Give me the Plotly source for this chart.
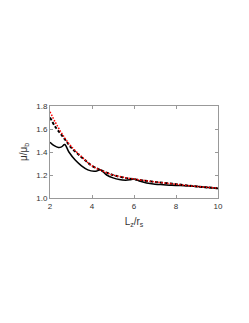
import plotly.graph_objects as go

red_x = [2, 2.25, 2.5, 2.75, 3, 3.5, 4, 4.5, 5, 5.5, 6, 7, 8, 9, 10]
red_y = [1.75, 1.66, 1.58, 1.51, 1.45, 1.36, 1.28, 1.235, 1.20, 1.18, 1.165, 1.14, 1.12, 1.10, 1.087]

dash_x = [2, 2.25, 2.5, 2.75, 3, 3.5, 4, 4.5, 5, 5.5, 6, 7, 8, 9, 10]
dash_y = [1.70, 1.62, 1.56, 1.50, 1.44, 1.355, 1.28, 1.235, 1.20, 1.178, 1.163, 1.14, 1.12, 1.10, 1.085]

solid_x = [2, 2.2, 2.4, 2.55, 2.7, 2.9, 3.2, 3.5, 3.8, 4.1, 4.25, 4.4, 4.7, 5.0, 5.3, 5.6, 5.8, 6.0,
           6.3, 6.6, 7.0, 7.4, 7.8, 8.2, 9, 10]
solid_y = [1.485, 1.455, 1.44, 1.445, 1.465, 1.40, 1.33, 1.28, 1.245, 1.232, 1.236, 1.245, 1.20, 1.175,
           1.16, 1.155, 1.158, 1.165, 1.145, 1.13, 1.12, 1.115, 1.11, 1.108, 1.10, 1.082]

x_ticks = [2, 4, 6, 8, 10]
y_ticks = [1.0, 1.2, 1.4, 1.6, 1.8]

FONT = "Liberation Sans, Arial"

fig = go.Figure()
fig.add_trace(go.Scatter(x=solid_x, y=solid_y, mode="lines",
                         line=dict(color="black", width=1.5, shape="spline"), showlegend=False))
fig.add_trace(go.Scatter(x=dash_x, y=dash_y, mode="lines",
                         line=dict(color="black", width=2, dash="3px,2px", shape="spline"), showlegend=False))
fig.add_trace(go.Scatter(x=red_x, y=red_y, mode="lines",
                         line=dict(color="red", width=1.5, dash="1.5px,1.5px", shape="spline"), showlegend=False))

axis_common = dict(showgrid=False, zeroline=False, showline=True, linecolor="#999999", linewidth=1,
                   mirror="ticks", ticks="inside", ticklen=3, tickcolor="#999999", automargin=False,
                   tickfont=dict(family=FONT, size=8, color="#333333"))

fig.update_xaxes(range=[2, 10], tickvals=x_ticks, ticktext=[str(v) for v in x_ticks],
                 title=dict(text="L<sub>z</sub>/r<sub>s</sub>", standoff=8,
                            font=dict(family=FONT, size=10, color="#333333")),
                 **axis_common)
fig.update_yaxes(range=[1.0, 1.8], tickvals=y_ticks, ticktext=[f"{v:.1f}" for v in y_ticks],
                 title=dict(text="μ/μ<sub>b</sub>", standoff=6,
                            font=dict(family=FONT, size=10, color="#333333")),
                 **axis_common)

fig.update_layout(width=249, height=323, margin=dict(l=42, r=39, t=98, b=133),
                  paper_bgcolor="white", plot_bgcolor="white")

fig.write_html("out.html")
